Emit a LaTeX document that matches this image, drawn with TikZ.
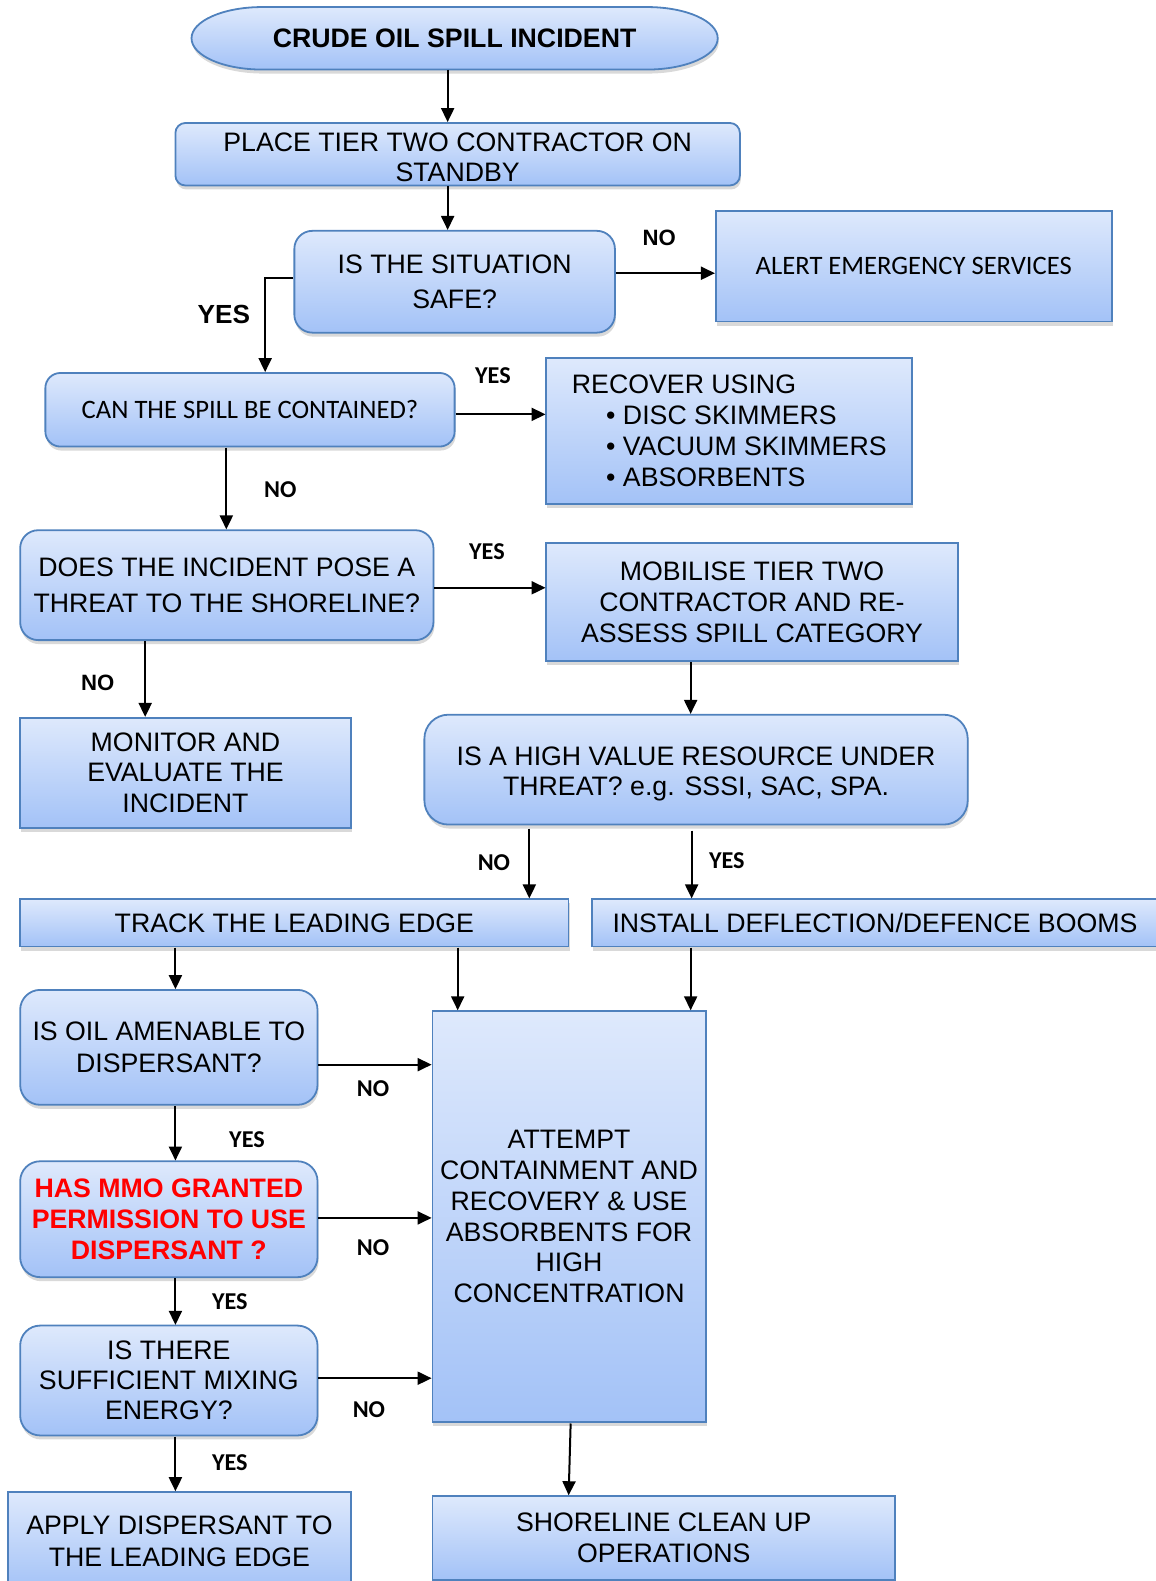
\documentclass[tikz,border=0pt]{standalone}
\usepackage{fontspec}
\setmainfont{Liberation Sans}
\newfontfamily\calfont{Carlito}
\usetikzlibrary{arrows.meta,shadows,calc}
\definecolor{boxedge}{RGB}{79,129,189}
\definecolor{boxtop}{RGB}{222,233,252}
\definecolor{boxbot}{RGB}{163,194,247}
\newcommand{\dropline}[2]{\raisebox{-#1}[\height][\depth]{#2}}

\begin{document}
\begin{tikzpicture}[x=1pt,y=-1pt,scale=1.008,every node/.append style={transform shape},
    >={Triangle[length=14pt,width=13pt]},
    bluefill/.style={draw=boxedge,line width=1.8pt,top color=boxtop,bottom color=boxbot,
      drop shadow={opacity=0.3,shadow xshift=1pt,shadow yshift=-4pt}},
    action/.style={bluefill,inner sep=2pt,align=center,font=\fontsize{26.5}{31}\selectfont},
    decision/.style={action,rounded corners=18pt},
    yn/.style={font=\calfont\bfseries\fontsize{24}{28}\selectfont,inner sep=0pt},
    ynarial/.style={font=\bfseries\fontsize{22}{26}\selectfont,inner sep=0pt},
    flow/.style={->,line width=2pt}]

% start terminal
\path[bluefill] (260,7) -- (642,7) arc[start angle=90,end angle=-90,x radius=70pt,y radius=31pt]
    -- (260,69) arc[start angle=270,end angle=90,x radius=70pt,y radius=31pt] -- cycle;
\node[font=\bfseries\fontsize{26.5}{31}\selectfont,minimum width=522pt,minimum height=62pt] (start) at (451,38) {CRUDE OIL SPILL INCIDENT};

% boxes
\node[decision,rounded corners=10pt,minimum width=560pt,minimum height=62pt,font=\fontsize{26.5}{29}\selectfont] (place) at (454,153) {\dropline{3pt}{PLACE TIER TWO CONTRACTOR ON}\\\dropline{3pt}{STANDBY}};
\node[decision,minimum width=318pt,minimum height=101pt,font=\fontsize{26.5}{34}\selectfont] (safe) at (451,279.5) {IS THE SITUATION\\SAFE?};
\node[action,minimum width=393pt,minimum height=110pt,font=\calfont\fontsize{26.4}{31}\selectfont] (alert) at (906.5,264) {ALERT EMERGENCY SERVICES};
\node[decision,rounded corners=15pt,minimum width=406pt,minimum height=73pt,font=\calfont\fontsize{26.4}{31}\selectfont] (contain) at (248,406.5) {CAN THE SPILL BE CONTAINED?};
\node[action,align=left,minimum width=363pt,minimum height=145pt,font=\fontsize{26.5}{30.7}\selectfont] (recover) at (723.5,427.5) {RECOVER USING\\\hspace*{34pt}• DISC SKIMMERS\\\hspace*{34pt}• VACUUM SKIMMERS\\\hspace*{34pt}• ABSORBENTS};
\node[decision,minimum width=410pt,minimum height=109pt,font=\fontsize{26.5}{35}\selectfont] (threat) at (225,580.5) {DOES THE INCIDENT POSE A\\THREAT TO THE SHORELINE?};
\node[action,minimum width=408pt,minimum height=117pt,font=\fontsize{26.5}{30.5}\selectfont] (mobilise) at (746,597.5) {MOBILISE TIER TWO\\CONTRACTOR AND RE-\\ASSESS SPILL CATEGORY};
\node[action,minimum width=328pt,minimum height=109pt,font=\fontsize{26.5}{30.5}\selectfont] (monitor) at (184,766.5) {MONITOR AND\\EVALUATE THE\\INCIDENT};
\node[decision,rounded corners=24pt,minimum width=539pt,minimum height=109pt,font=\fontsize{26.5}{30}\selectfont] (highval) at (690.5,763.5) {\dropline{4pt}{IS A HIGH VALUE RESOURCE UNDER}\\\dropline{4pt}{THREAT? e.g. SSSI, SAC, SPA.}};
\node[action,minimum width=544pt,minimum height=47pt] (track) at (292,915.5) {TRACK THE LEADING EDGE};
\node[action,minimum width=562pt,minimum height=47pt] (install) at (868,915.5) {INSTALL DEFLECTION/DEFENCE BOOMS};
\node[decision,rounded corners=20pt,minimum width=295pt,minimum height=114pt] (amenable) at (167.5,1039) {IS OIL AMENABLE TO\\DISPERSANT?};
\node[decision,rounded corners=20pt,minimum width=295pt,minimum height=115pt,text=red,font=\bfseries\fontsize{26.5}{30.5}\selectfont] (mmo) at (167.5,1209.5) {HAS MMO GRANTED\\PERMISSION TO USE\\DISPERSANT ?};
\node[decision,rounded corners=20pt,minimum width=295pt,minimum height=109pt,font=\fontsize{26.5}{30}\selectfont] (mixing) at (167.5,1369.5) {IS THERE\\SUFFICIENT MIXING\\ENERGY?};
\node[action,minimum width=340pt,minimum height=98pt,font=\fontsize{26.5}{31}\selectfont] (apply) at (178,1529) {APPLY DISPERSANT TO\\THE LEADING EDGE};
\node[action,minimum width=271pt,minimum height=408pt,font=\fontsize{26.5}{30.5}\selectfont] (attempt) at (564.5,1207) {ATTEMPT\\CONTAINMENT AND\\RECOVERY \& USE\\ABSORBENTS FOR\\HIGH\\CONCENTRATION};
\node[action,minimum width=459pt,minimum height=83pt,font=\fontsize{26.5}{30}\selectfont] (shore) at (658.5,1525.5) {SHORELINE CLEAN UP\\OPERATIONS};

% connectors
\draw[flow] ([xshift=-7pt]start.south) -- ([xshift=-7pt]start.south |- place.north);
\draw[flow] ([xshift=-10pt]place.south) -- ([xshift=-10pt]place.south |- safe.north);
\draw[flow] ([yshift=8.5pt]safe.east) -- ([yshift=8.5pt]safe.east -| alert.west);
\draw[flow] ([yshift=3.5pt]safe.west) -| ([xshift=15pt]contain.north);
\draw[flow] ([yshift=-4.5pt]contain.east) -- ([yshift=-4.5pt]contain.east -| recover.west);
\draw[flow] ([xshift=-23.5pt]contain.south) -- ([xshift=-23.5pt]contain.south |- threat.north);
\draw[flow] ([yshift=-2.5pt]threat.east) -- ([yshift=-2.5pt]threat.east -| mobilise.west);
\draw[flow] ([xshift=-81pt]threat.south) -- ([xshift=-81pt]threat.south |- monitor.north);
\draw[flow] ([xshift=-61pt]mobilise.south) -- ([xshift=-61pt]mobilise.south |- highval.north);
\draw[flow] ([xshift=-165.5pt,yshift=-3pt]highval.south) -- ([xshift=-165.5pt]highval.south |- track.north);
\draw[flow] ([xshift=-4.5pt,yshift=-5pt]highval.south) -- ([xshift=-4.5pt]highval.south |- install.north);
\draw[flow] ([xshift=-118pt]track.south) -- ([xshift=-118pt]track.south |- amenable.north);
\draw[flow] ([xshift=162pt]track.south) -- ([xshift=162pt]track.south |- attempt.north);
\draw[flow] ([xshift=-183pt]install.south) -- ([xshift=-183pt]install.south |- attempt.north);
\draw[flow] ([yshift=-17pt]amenable.east) -- ([yshift=-17pt]amenable.east -| attempt.west);
\draw[flow] ([xshift=6.5pt]amenable.south) -- ([xshift=6.5pt]amenable.south |- mmo.north);
\draw[flow] ([yshift=1.5pt]mmo.east) -- ([yshift=1.5pt]mmo.east -| attempt.west);
\draw[flow] ([xshift=6.5pt]mmo.south) -- ([xshift=6.5pt]mmo.south |- mixing.north);
\draw[flow] ([yshift=2.5pt]mixing.east) -- ([yshift=2.5pt]mixing.east -| attempt.west);
\draw[flow] ([xshift=6.5pt]mixing.south) -- ([xshift=6.5pt]mixing.south |- apply.north);
\draw[flow] ([xshift=1.5pt]attempt.south) -- ([xshift=-94.5pt]shore.north);

% yes / no labels
\node[ynarial] (noAlert) at (654,236) {NO};
\node[font=\bfseries\fontsize{26}{30}\selectfont,inner sep=0pt] (yesSafe) at (222,312) {YES};
\node[yn] (yesContain) at (489,373) {YES};
\node[yn] (noContain) at (278,486) {NO};
\node[yn] (yesThreat) at (483,547) {YES};
\node[ynarial] (noThreat) at (97,677) {NO};
\node[yn] (noHighval) at (490,856) {NO};
\node[yn] (yesHighval) at (721,854) {YES};
\node[yn] (noAmenable) at (370,1080) {NO};
\node[yn] (yesAmenable) at (245,1131) {YES};
\node[yn] (noMmo) at (370,1238) {NO};
\node[yn] (yesMmo) at (228,1291) {YES};
\node[yn] (noMixing) at (366,1398) {NO};
\node[yn] (yesMixing) at (228,1451) {YES};

\pgfresetboundingbox
\path[use as bounding box] (0,0) rectangle (1145.8,1568.4);
\end{tikzpicture}
\end{document}
